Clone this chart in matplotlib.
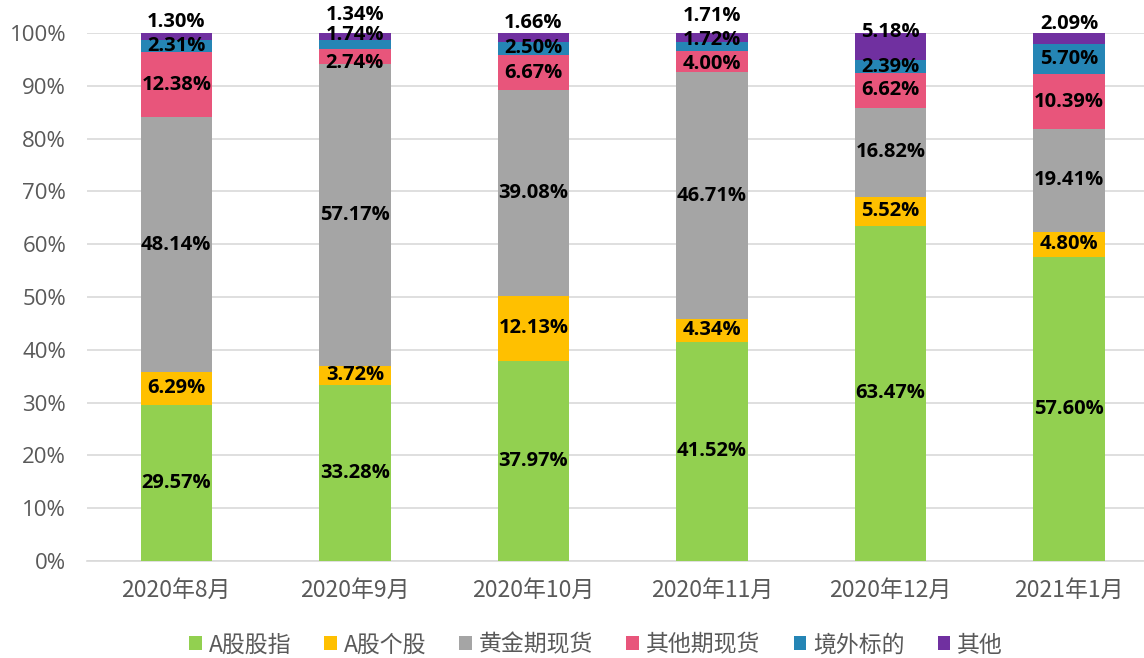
import matplotlib
matplotlib.use("Agg")
import matplotlib.pyplot as plt
import numpy as np

plt.rcParams['font.family'] = ['Noto Sans CJK SC', 'DejaVu Sans']

categories = ["2020年8月", "2020年9月", "2020年10月", "2020年11月", "2020年12月", "2021年1月"]
series_names = ["A股股指", "A股个股", "黄金期现货", "其他期现货", "境外标的", "其他"]
a_index = [29.57, 33.28, 37.97, 41.52, 63.47, 57.60]
a_stock = [6.29, 3.72, 12.13, 4.34, 5.52, 4.80]
gold = [48.14, 57.17, 39.08, 46.71, 16.82, 19.41]
other_fut = [12.38, 2.74, 6.67, 4.00, 6.62, 10.39]
overseas = [2.31, 1.74, 2.50, 1.72, 2.39, 5.70]
other = [1.30, 1.34, 1.66, 1.71, 5.18, 2.09]
colors = ["#92D050", "#FFC000", "#A5A5A5", "#E8557B", "#2585B5", "#7030A0"]

all_series = [a_index, a_stock, gold, other_fut, overseas, other]

# label nudges (in % units) to keep crowded labels readable
label_nudge = {(5, 1): 4.17, (4, 1): 1.86, (3, 1): -1.24,
               (5, 3): 4.15, (4, 3): 1.27, (3, 3): -0.47}
top_nudge = 2.7

W, H = 1144, 658
fig = plt.figure(figsize=(W / 100, H / 100), dpi=100)
ax = fig.add_axes([87 / W, (H - 561) / H, (W - 87) / W, 528 / H])

x = np.arange(len(categories))
bottom = np.zeros(len(categories))
handles = []
lbl_font = ['Open Sans', 'DejaVu Sans']
for i, (vals, name, c) in enumerate(zip(all_series, series_names, colors)):
    v = np.array(vals)
    b = ax.bar(x, v, width=0.40, bottom=bottom, color=c, label=name, zorder=3)
    handles.append(b)
    for j, (xi, vi, bi) in enumerate(zip(x, v, bottom)):
        yc = bi + vi / 2
        if (i, j) in label_nudge:
            yc += label_nudge[(i, j)]
        elif i == len(all_series) - 1:
            yc += top_nudge
        ax.text(xi, yc, f"{vi:.2f}%", ha='center', va='center', fontsize=14.5,
                fontweight='bold', color='black', family=lbl_font,
                zorder=5, clip_on=False)
    bottom += v

ax.set_ylim(0, 100)
ax.set_xlim(-0.5, 5.42)
ax.set_yticks(np.arange(0, 101, 10))
ax.set_yticklabels([f"{t}%" for t in range(0, 101, 10)], fontsize=16, color='#595959',
                   family=lbl_font)
ax.set_xticks(x)
ax.set_xticklabels(categories, fontsize=16.5, color='#595959')
ax.tick_params(axis='both', length=0)
ax.tick_params(axis='x', pad=13)
ax.tick_params(axis='y', pad=15)
ax.grid(axis='y', color='#D9D9D9', linewidth=1.2, zorder=0)
for s in ['top', 'right', 'left']:
    ax.spines[s].set_visible(False)
ax.spines['bottom'].set_color('#D9D9D9')
ax.spines['bottom'].set_linewidth(1.2)

leg = fig.legend(handles=handles, labels=series_names, loc='center',
                 bbox_to_anchor=(596 / W, (H - 645) / H),
                 ncol=6, frameon=False, fontsize=16.5, handlelength=0.55, handleheight=0.55,
                 handletextpad=0.3, columnspacing=1.45)
for t in leg.get_texts():
    t.set_color('#595959')

fig.savefig("out.png", dpi=100)
